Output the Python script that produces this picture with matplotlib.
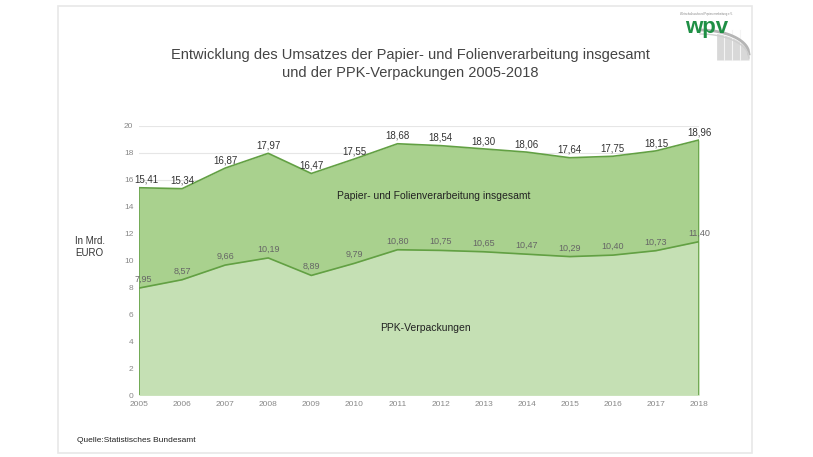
import numpy as np
import matplotlib.pyplot as plt
from matplotlib.patches import Rectangle

plt.rcParams['font.family'] = ['Liberation Sans', 'DejaVu Sans']

years = [2005, 2006, 2007, 2008, 2009, 2010, 2011, 2012, 2013, 2014, 2015, 2016, 2017, 2018]
gesamt = [15.41, 15.34, 16.87, 17.97, 16.47, 17.55, 18.68, 18.54, 18.30, 18.06, 17.64, 17.75, 18.15, 18.96]
ppk = [7.95, 8.57, 9.66, 10.19, 8.89, 9.79, 10.80, 10.75, 10.65, 10.47, 10.29, 10.40, 10.73, 11.40]
yticks = [0, 2, 4, 6, 8, 10, 12, 14, 16, 18, 20]

def de(v):
    return ('%.2f' % v).replace('.', ',')

fig = plt.figure(figsize=(8.13, 4.57), dpi=100)
fig.patches.append(Rectangle((58/813, 1-453/457), (752-58)/813, (453-6)/457,
                             transform=fig.transFigure, fill=False, edgecolor='#e8e8e8', lw=1.2))

ax = fig.add_axes([139/813, 1-395/457, 560/813, 269/457])
ax.fill_between(years, 0, gesamt, color='#a9d18e', lw=0, zorder=2)
ax.fill_between(years, 0, ppk, color='#c5e0b4', lw=0, zorder=3)
ax.plot(years, gesamt, color='#62a043', lw=1.2, zorder=4)
ax.plot(years, ppk, color='#62a043', lw=1.2, zorder=4)
ax.vlines(years[0], 0, gesamt[0], color='#62a043', lw=1.2, zorder=4)
ax.vlines(years[-1], 0, gesamt[-1], color='#62a043', lw=1.2, zorder=4)

for i, (x, v) in enumerate(zip(years, gesamt)):
    dx = 5 if i == 0 else 0
    ax.annotate(de(v), (x, v), xytext=(dx, 2), textcoords='offset points',
                ha='center', va='bottom', fontsize=7, color='#333333', zorder=5)
for i, (x, v) in enumerate(zip(years, ppk)):
    dx = 3 if i == 0 else 0
    ax.annotate(de(v), (x, v), xytext=(dx, 3), textcoords='offset points',
                ha='center', va='bottom', fontsize=6.5, color='#666666', zorder=5)

ax.text(2011.83, 14.8, 'Papier- und Folienverarbeitung insgesamt', ha='center', va='center',
        fontsize=7.5, color='#222222', zorder=5)
ax.text(2011.65, 5.0, 'PPK-Verpackungen', ha='center', va='center',
        fontsize=7.5, color='#222222', zorder=5)

ax.set_xlim(2005, 2018)
ax.set_ylim(0, 20)
ax.set_xticks(years)
ax.set_yticks(yticks)
ax.tick_params(length=0, labelsize=6, colors='#888888', pad=4)
ax.grid(axis='y', color='#e6e6e6', lw=0.8, zorder=0)
for s in ax.spines.values():
    s.set_visible(False)
ax.set_axisbelow(True)

fig.text(410/813, 1-55/457, 'Entwicklung des Umsatzes der Papier- und Folienverarbeitung insgesamt',
         ha='center', va='center', fontsize=10.5, color='#444444')
fig.text(410/813, 1-73/457, 'und der PPK-Verpackungen 2005-2018',
         ha='center', va='center', fontsize=10.5, color='#444444')
fig.text(75/813, 1-247/457, 'In Mrd.\nEURO', ha='left', va='center', fontsize=7,
         color='#333333', linespacing=1.3)
fig.text(77/813, 1-440/457, 'Quelle:Statistisches Bundesamt', ha='left', va='center',
         fontsize=6, color='#222222')

# logo (pixel coordinates, y down)
lax = fig.add_axes([680/813, 1-62/457, 75/813, 52/457])
lax.set_xlim(680, 755)
lax.set_ylim(62, 10)
lax.axis('off')
xs = np.linspace(700, 749, 60)
arc = 54 - 24*np.sqrt(np.clip(1 - ((xs - 700)/49)**2, 0, 1))
m = xs >= 716
lax.fill_between(xs[m], arc[m] + 2, 60, color='#d8d8d8', lw=0)
for xv in [724, 732, 740]:
    lax.plot([xv, xv], [30, 60], color='#f4f4f4', lw=0.8)
lax.plot(xs, arc, color='#b5b5b5', lw=2)
lax.plot(xs, arc + 4, color='#cfcfcf', lw=1)
lax.text(707, 27, 'wpv', ha='center', va='center', fontsize=16, color='#1f8f45', fontweight='bold')
lax.text(706, 14, 'Wirtschaftsverband Papierverarbeitung e.V.', ha='center', va='center',
         fontsize=2, color='#888888')

fig.savefig('out.png', dpi=100)
